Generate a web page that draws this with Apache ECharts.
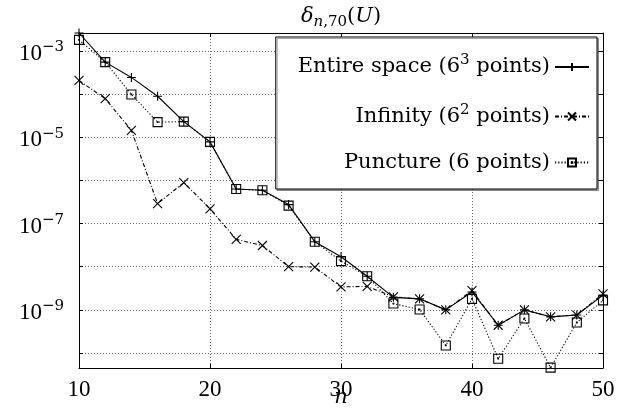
<!DOCTYPE html>
<html>
<head>
<meta charset="utf-8">
<script src="https://cdn.jsdelivr.net/npm/echarts@6/dist/echarts.min.js"></script>
<style>
html,body{margin:0;padding:0;background:#fff;}
#chart{width:628px;height:410px;}
</style>
</head>
<body>
<div id="chart"></div>
<script>
// ---- data ----
const nValues = [10,12,14,16,18,20,22,24,26,28,30,32,34,36,38,40,42,44,46,48,50];
const entireSpace = [2.6e-3,5.5e-4,2.43e-4,8.9e-5,2.3e-5,7.8e-6,6.3e-7,5.9e-7,2.75e-7,3.8e-8,1.7e-8,6.0e-9,1.95e-9,1.8e-9,1.0e-9,2.6e-9,4.4e-10,1.0e-9,6.9e-10,7.6e-10,2.2e-9];
const infinity = [2.07e-4,7.8e-5,1.45e-5,2.9e-7,8.9e-7,2.2e-7,4.3e-8,3.1e-8,1.0e-8,9.8e-9,3.4e-9,3.5e-9,2.0e-9,1.8e-9,1.0e-9,2.8e-9,4.4e-10,1.0e-9,6.9e-10,7.6e-10,2.35e-9];
const puncture = [1.8e-3,5.5e-4,9.8e-5,2.24e-5,2.3e-5,7.8e-6,6.3e-7,5.9e-7,2.6e-7,3.8e-8,1.35e-8,6.0e-9,1.4e-9,1.02e-9,1.5e-10,1.8e-9,7.4e-11,6.3e-10,4.6e-11,5.1e-10,1.66e-9];
const seriesNames = ['Entire space (6^3 points)', 'Infinity (6^2 points)', 'Puncture (6 points)'];
const legendLabels = ['{t|Entire space (6}{sup|3}{t| points)}', '{t|Infinity (6}{sup|2}{t| points)}', '{t|Puncture (6 points)}'];
const xTicks = [10, 20, 30, 40, 50];
const yRange = [4.5e-11, 2.6e-3];
const titleText = '{i|δ}{si|n}{sb|,70}{t|(}{i|U}{t|)}';
const xName = 'n';

const NUMFONT = '"Liberation Serif", serif';
const TXTFONT = '"DejaVu Serif", serif';
const pairs = arr => arr.map((v, i) => [nValues[i], v]);

const plusSym = 'path://M0,5L10,5M5,0L5,10';
const crossSym = 'path://M0,0L10,10M10,0L0,10';
const sqSym = 'path://M0,0L10,0L10,10L0,10Z M4.6,4.6L5.4,4.6L5.4,5.4L4.6,5.4Z';

const gridLine = {show: true, lineStyle: {color: '#666', type: [1, 2], width: 1}};
const tickIn = {show: true, inside: true, length: 4, lineStyle: {color: '#000', width: 1}};
const axisLine = {show: true, onZero: false, lineStyle: {color: '#000', width: 1}};

function yLabel(v) {
  const e = Math.log10(v);
  const r = Math.round(e);
  if (Math.abs(e - r) > 1e-6) return '';
  if (Math.abs(r) % 2 !== 1) return '';
  return '{b|10}{sup|−' + Math.abs(r) + '}';
}

const chart = echarts.init(document.getElementById('chart'), null, {renderer: 'canvas'});
const mk = (name, data, sym, lineType, size) => ({
  name, type: 'line', data: pairs(data), symbol: sym, symbolSize: size,
  clip: false, animation: false,
  lineStyle: {color: '#000', width: 1.1, type: lineType},
  itemStyle: {color: 'rgba(0,0,0,0)', borderColor: '#000', borderWidth: 1.1},
  emphasis: {disabled: true}
});

chart.setOption({
  backgroundColor: '#fff',
  animation: false,
  grid: {left: 79, right: 25, top: 33, bottom: 42, containLabel: false, outerBoundsMode: 'none'},
  xAxis: [{
    type: 'value', min: xTicks[0], max: xTicks[xTicks.length - 1], interval: 10,
    axisLine, axisTick: tickIn, splitLine: gridLine,
    axisLabel: {color: '#000', fontFamily: NUMFONT, fontSize: 23, margin: 10},
    name: xName, nameLocation: 'middle', nameGap: 19, nameMoveOverlap: false,
    nameTextStyle: {color: '#000', fontFamily: TXTFONT, fontSize: 21, fontStyle: 'italic'}
  }, {
    type: 'value', position: 'top', min: xTicks[0], max: xTicks[xTicks.length - 1], interval: 10,
    axisLine, axisTick: tickIn, splitLine: {show: false}, axisLabel: {show: false},
    name: titleText, nameLocation: 'middle', nameGap: 3, nameMoveOverlap: false,
    nameTextStyle: {color: '#000', fontFamily: TXTFONT, fontSize: 21,
      rich: {
        t: {fontFamily: TXTFONT, fontSize: 21, lineHeight: 26, color: '#000'},
        i: {fontFamily: TXTFONT, fontSize: 21, lineHeight: 26, fontStyle: 'italic', color: '#000'},
        si: {fontFamily: TXTFONT, fontSize: 15, lineHeight: 15, fontStyle: 'italic', verticalAlign: 'bottom', color: '#000'},
        sb: {fontFamily: TXTFONT, fontSize: 15, lineHeight: 15, verticalAlign: 'bottom', color: '#000'}
      }}
  }],
  yAxis: [{
    type: 'log', logBase: 10, min: yRange[0], max: yRange[1],
    axisLine, axisTick: tickIn, splitLine: gridLine,
    axisLabel: {formatter: yLabel, margin: 15, color: '#000', padding: [6, 0, 0, 0],
      rich: {
        b: {fontFamily: NUMFONT, fontSize: 23, lineHeight: 28, color: '#000'},
        sup: {fontFamily: TXTFONT, fontSize: 15, lineHeight: 15, verticalAlign: 'top', color: '#000'}
      }}
  }, {
    type: 'log', logBase: 10, min: yRange[0], max: yRange[1], position: 'right',
    axisLine, axisTick: tickIn, splitLine: {show: false}, axisLabel: {show: false}
  }],
  legend: {
    orient: 'vertical', right: 31, top: 37, align: 'right',
    padding: [16, 7, 16, 22], itemGap: 25, itemWidth: 34, itemHeight: 10,
    backgroundColor: '#fff', borderColor: '#000', borderWidth: 1,
    shadowColor: 'rgba(0,0,0,0.35)', shadowOffsetX: 1.5, shadowOffsetY: 1.5, shadowBlur: 0,
    data: seriesNames,
    formatter: name => legendLabels[seriesNames.indexOf(name)],
    selectedMode: false,
    textStyle: {width: 265, align: 'right', color: '#000', fontFamily: TXTFONT, fontSize: 21,
      rich: {
        t: {fontFamily: TXTFONT, fontSize: 21, lineHeight: 28, color: '#000', align: 'right'},
        sup: {fontFamily: TXTFONT, fontSize: 15, lineHeight: 15, verticalAlign: 'top', color: '#000', align: 'right'}
      }}
  },
  series: [
    mk(seriesNames[0], entireSpace, plusSym, 'solid', 9),
    mk(seriesNames[1], infinity, crossSym, [4, 2, 1, 2], 9),
    mk(seriesNames[2], puncture, sqSym, [1.2, 2], 9)
  ]
});
</script>
</body>
</html>
